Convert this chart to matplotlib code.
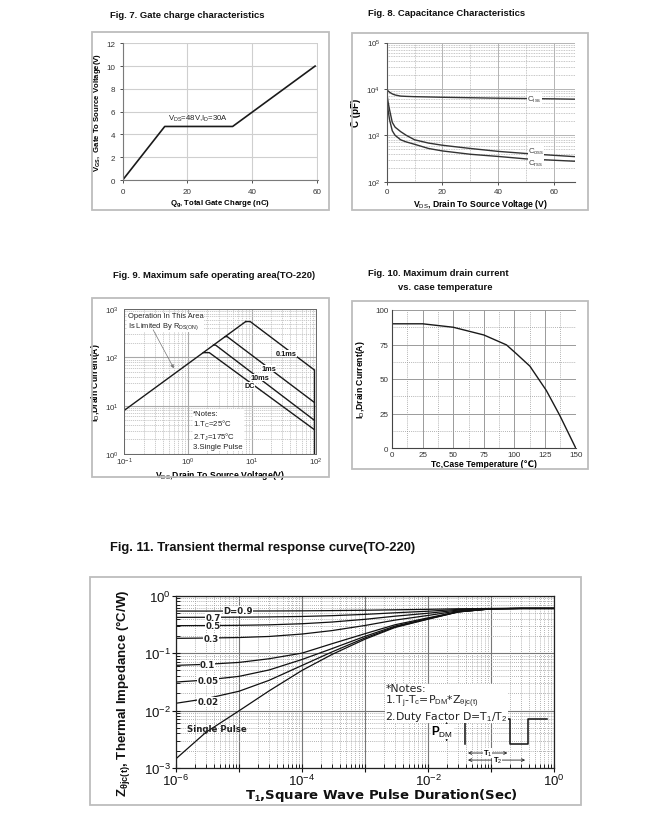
import numpy as np
import matplotlib
matplotlib.use('Agg')
import matplotlib.pyplot as plt
from matplotlib.ticker import MultipleLocator, LogLocator, NullFormatter, FuncFormatter
from matplotlib.patches import Rectangle

plt.rcParams['font.family'] = ['Liberation Sans', 'DejaVu Sans']
plt.rcParams['mathtext.fontset'] = 'custom'
plt.rcParams['mathtext.rm'] = 'Liberation Sans'
plt.rcParams['mathtext.bf'] = 'Liberation Sans:bold'
plt.rcParams['mathtext.it'] = 'Liberation Sans:italic'

# ---------------- data ----------------
# Fig 7 gate charge
qg_nc = [0, 13, 34, 59.5]
vgs_v = [0, 4.7, 4.7, 10]

# Fig 8 capacitance
vds_cap = [0, 0.5, 1, 2, 3, 5, 7, 10, 15, 20, 30, 40, 50, 60, 68]
ciss_pf = [10000, 9000, 8500, 7800, 7400, 7000, 6900, 6800, 6700, 6600, 6450, 6300, 6200, 6100, 6000]
coss_pf = [8500, 5200, 3600, 1900, 1500, 1200, 1000, 800, 680, 610, 520, 450, 405, 370, 345]
crss_pf = [7000, 3500, 2200, 1250, 1000, 800, 720, 640, 520, 460, 390, 350, 310, 290, 275]

# Fig 9 safe operating area
rds_v = [0.1, 8.0]
rds_i = [8, 550]
soa_01ms_v = [8.0, 9.4, 95]
soa_01ms_i = [550, 550, 55]
soa_1ms_v = [3.8, 4.1, 95]
soa_1ms_i = [268, 268, 11.7]
soa_10ms_v = [2.5, 2.7, 95]
soa_10ms_i = [179, 179, 5.0]
soa_dc_v = [1.73, 2.15, 95]
soa_dc_i = [125, 125, 3.2]
soa_vmax_v = [95, 95]
soa_vmax_i = [55, 1]

# Fig 10 drain current vs case temperature
tc_c = [0, 25, 50, 75, 93.5, 101.7, 112.6, 126, 137, 150]
id_a = [90, 90, 87.5, 81.9, 74.7, 68.2, 59.3, 41.7, 23.6, 0]

# Fig 11 transient thermal impedance
t_pulse = [1e-6, 3e-6, 1e-5, 3e-5, 1e-4, 3e-4, 1e-3, 3e-3, 1e-2, 3e-2, 1e-1, 3e-1, 1]
z_d09 = [0.540, 0.540, 0.541, 0.542, 0.545, 0.550, 0.558, 0.568, 0.579, 0.592, 0.599, 0.6, 0.6]
z_d07 = [0.420, 0.421, 0.423, 0.427, 0.435, 0.449, 0.473, 0.504, 0.537, 0.576, 0.597, 0.6, 0.6]
z_d05 = [0.301, 0.302, 0.305, 0.311, 0.325, 0.348, 0.388, 0.44, 0.495, 0.56, 0.595, 0.6, 0.6]
z_d03 = [0.181, 0.183, 0.187, 0.195, 0.215, 0.247, 0.303, 0.376, 0.453, 0.544, 0.593, 0.6, 0.6]
z_d01 = [0.0613, 0.0638, 0.0689, 0.0798, 0.10, 0.146, 0.218, 0.312, 0.411, 0.528, 0.591, 0.6, 0.6]
z_d005 = [0.0314, 0.034, 0.0394, 0.0509, 0.0775, 0.120, 0.196, 0.296, 0.400, 0.524, 0.590, 0.6, 0.6]
z_d002 = [0.0134, 0.0161, 0.0217, 0.0336, 0.061, 0.105, 0.184, 0.286, 0.394, 0.522, 0.590, 0.6, 0.6]
z_single = [0.00145, 0.0042, 0.0099, 0.022, 0.05, 0.095, 0.175, 0.28, 0.39, 0.52, 0.59, 0.6, 0.6]
duty_labels = ['D=0.9', '0.7', '0.5', '0.3', '0.1', '0.05', '0.02']

# ---------------- layout helpers ----------------
W, H = 669, 820
fig = plt.figure(figsize=(W / 100, H / 100), dpi=100)

def ax_px(l, t, r, b):
    return fig.add_axes([l / W, 1 - b / H, (r - l) / W, (b - t) / H])

def box_px(l, t, r, b):
    fig.add_artist(Rectangle((l / W, 1 - b / H), (r - l) / W, (b - t) / H,
                             transform=fig.transFigure, fill=False,
                             ec='#bdbdbd', lw=1.3))

def text_px(x, y, s, **kw):
    return fig.text(x / W, 1 - y / H, s, **kw)

GRID = '#b4b4b4'
LINE = '#1a1a1a'
TICKC = '#333333'
white_box = dict(fc='white', ec='none', pad=0.4)

# frames
box_px(92, 33, 329, 211)
box_px(352, 34, 588, 211)
box_px(92, 299, 329, 478)
box_px(352, 302, 588, 470)
box_px(90, 578, 581, 806)

# titles
tkw = dict(fontsize=6.8, fontweight='bold', color='#111111', va='center', ha='left')
text_px(110, 15, 'Fig. 7. Gate charge characteristics', **tkw)
text_px(368, 14, 'Fig. 8. Capacitance Characteristics', **tkw)
text_px(113, 275, 'Fig. 9. Maximum safe operating area(TO-220)', **tkw)
text_px(368, 274, 'Fig. 10. Maximum drain current', **tkw)
text_px(398, 288, 'vs. case temperature', **tkw)
text_px(110, 548, 'Fig. 11. Transient thermal response curve(TO-220)',
        fontsize=9.3, fontweight='bold', color='#111111', va='center', ha='left')

# ---------------- Fig 7 ----------------
ax7 = ax_px(122.7, 44.3, 318, 181)
ax7.plot(qg_nc, vgs_v, color=LINE, lw=1.2)
ax7.set_xlim(0, 60.4)
ax7.set_ylim(0, 12)
ax7.xaxis.set_major_locator(MultipleLocator(20))
ax7.yaxis.set_major_locator(MultipleLocator(2))
ax7.grid(True, color='#cfcfcf', lw=0.8)
for s in ['top', 'right']:
    ax7.spines[s].set_visible(False)
for s in ['left', 'bottom']:
    ax7.spines[s].set_color('#7a7a7a')
    ax7.spines[s].set_linewidth(0.8)
ax7.tick_params(labelsize=5.8, colors=TICKC, length=2.5, width=0.6, pad=3)
ax7.text(13.9, 5.0, 'V$_{\\rm DS}$=48V,I$_{\\rm D}$=30A', fontsize=5.6, color='#222222', va='bottom')
ax7.set_xlabel('Q$_{\\mathbf{g}}$, Total Gate Charge (nC)', fontsize=5.6, fontweight='bold', labelpad=1.5)
ax7.set_ylabel('V$_{\\mathbf{GS}}$,  Gate To Source Voltage(V)', fontsize=5.6, fontweight='bold', labelpad=2.5)

# ---------------- Fig 8 ----------------
ax8 = ax_px(386.7, 43.5, 575, 182.7)
ax8.set_yscale('log')
ax8.set_xlim(0, 67.5)
ax8.set_ylim(1e2, 1e5)
ax8.xaxis.set_major_locator(MultipleLocator(20))
ax8.xaxis.set_minor_locator(MultipleLocator(10))
ax8.yaxis.set_major_locator(LogLocator(base=10, numticks=10))
ax8.yaxis.set_minor_locator(LogLocator(base=10, subs=np.arange(2, 10), numticks=10))
ax8.yaxis.set_minor_formatter(NullFormatter())
ax8.grid(True, which='major', color=GRID, lw=0.7)
ax8.grid(True, which='minor', color=GRID, lw=0.6, ls=(0, (1, 1)))
ax8.tick_params(which='minor', length=0)
ax8.plot(vds_cap, ciss_pf, color='#333333', lw=1.0)
ax8.plot(vds_cap, coss_pf, color='#333333', lw=1.0)
ax8.plot(vds_cap, crss_pf, color='#333333', lw=1.0)
for s in ['top', 'right']:
    ax8.spines[s].set_visible(False)
for s in ['left', 'bottom']:
    ax8.spines[s].set_color('#555555')
    ax8.spines[s].set_linewidth(0.8)
ax8.tick_params(which='major', labelsize=5.8, colors=TICKC, length=2, width=0.6, pad=2.5)
ax8.text(53, 6150, 'C$_{\\rm iss}$', fontsize=5.8, color='#444444', ha='center', va='center', bbox=white_box)
ax8.text(53.5, 450, 'C$_{\\rm oss}$', fontsize=5.8, color='#444444', ha='center', va='center',
         bbox=dict(fc='white', ec='none', pad=0.2))
ax8.text(53.5, 258, 'C$_{\\rm rss}$', fontsize=5.8, color='#444444', ha='center', va='center',
         bbox=dict(fc='white', ec='none', pad=0.1))
ax8.set_xlabel('V$_{\\rm DS}$, Drain To Source Voltage (V)', fontsize=6.2, fontweight='bold', labelpad=1.5)
ax8.set_ylabel('C (pF)', fontsize=7, fontweight='bold', labelpad=4)

# ---------------- Fig 9 ----------------
ax9 = ax_px(124.3, 310, 315.7, 455)
ax9.set_xscale('log')
ax9.set_yscale('log')
ax9.set_xlim(0.1, 100)
ax9.set_ylim(1, 1000)
for a in (ax9.xaxis, ax9.yaxis):
    a.set_major_locator(LogLocator(base=10, numticks=10))
    a.set_minor_locator(LogLocator(base=10, subs=np.arange(2, 10), numticks=10))
    a.set_minor_formatter(NullFormatter())
ax9.grid(True, which='major', color='#a8a8a8', lw=0.8)
ax9.grid(True, which='minor', color='#c4c4c4', lw=0.6, ls=(0, (1.5, 1)))
ax9.tick_params(which='minor', length=0)
ax9.tick_params(axis='x', which='major', labelsize=5.8, colors=TICKC, length=0, pad=1.5)
ax9.tick_params(axis='y', which='major', labelsize=5.8, colors=TICKC, length=0, pad=4)
ax9.plot(rds_v, rds_i, color=LINE, lw=1.0)
ax9.plot(soa_01ms_v, soa_01ms_i, color=LINE, lw=1.0)
ax9.plot(soa_1ms_v, soa_1ms_i, color=LINE, lw=1.0)
ax9.plot(soa_10ms_v, soa_10ms_i, color=LINE, lw=1.0)
ax9.plot(soa_dc_v, soa_dc_i, color=LINE, lw=1.0)
ax9.plot(soa_vmax_v, soa_vmax_i, color=LINE, lw=1.0)
for s in ax9.spines.values():
    s.set_color('#666666')
    s.set_linewidth(0.7)
lkw = dict(fontsize=5.3, fontweight='bold', color='#111111', ha='center', va='center',
           bbox=dict(fc='white', ec='none', pad=0.2))
ax9.text(35, 120, '0.1ms', **lkw)
ax9.text(18.3, 59, '1ms', **lkw)
ax9.text(13.5, 38.6, '10ms', **lkw)
ax9.text(9.2, 26, 'DC', **lkw)
ax9.text(0.113, 870, 'Operation In This Area\nIs Limited By R$_{\\rm DS(ON)}$', fontsize=5.4,
         color='#222222', va='top', ha='left', linespacing=1.25,
         bbox=dict(fc='white', ec='none', pad=0.3))
ax9.annotate('', xy=(0.625, 52.8), xytext=(0.27, 417),
             arrowprops=dict(arrowstyle='-|>', color='#777777', lw=0.5, mutation_scale=5))
ax9.text(1.21, 8.3, '*Notes:\n1.T$_{\\rm C}$=25\u00b0C\n2.T$_{\\rm J}$=175\u00b0C\n3.Single Pulse', fontsize=5.6,
         color='#222222', va='top', ha='left', linespacing=1.2,
         bbox=dict(fc='white', ec='none', pad=0.4))
ax9.set_xlabel('V$_{\\rm DS}$,Drain To Source Voltage(V)', fontsize=6.2, fontweight='bold')
ax9.xaxis.set_label_coords(0.5, -0.095)
ax9.set_ylabel('I$_{\\rm D}$,Drain Current(A)', fontsize=6.2, fontweight='bold', labelpad=2)

# ---------------- Fig 10 ----------------
ax10 = ax_px(392, 311, 575.7, 449)
ax10.set_xlim(0, 150)
ax10.set_ylim(0, 100)
ax10.xaxis.set_major_locator(MultipleLocator(25))
ax10.xaxis.set_minor_locator(MultipleLocator(12.5))
ax10.yaxis.set_major_locator(MultipleLocator(25))
ax10.yaxis.set_minor_locator(MultipleLocator(12.5))
ax10.grid(True, which='major', color='#9a9a9a', lw=0.7)
ax10.grid(True, which='minor', color='#9a9a9a', lw=0.6, ls=(0, (1, 1.5)))
ax10.tick_params(which='minor', length=0)
ax10.tick_params(which='major', labelsize=5.8, colors=TICKC, length=0, pad=2.5)
ax10.plot(tc_c, id_a, color=LINE, lw=1.0)
for s in ['top', 'right']:
    ax10.spines[s].set_visible(False)
for s in ['left', 'bottom']:
    ax10.spines[s].set_color('#444444')
    ax10.spines[s].set_linewidth(0.8)
ax10.set_xlabel('Tc,Case Temperature (\u2103)', fontsize=6.2, fontweight='bold', labelpad=0.5)
ax10.set_ylabel('I$_{\\rm D}$,Drain Current(A)', fontsize=6.2, fontweight='bold', labelpad=6)

# ---------------- Fig 11 ----------------
ax11 = ax_px(176, 596.7, 554, 769)
ax11.set_xscale('log')
ax11.set_yscale('log')
ax11.set_xlim(1e-6, 1)
ax11.set_ylim(1e-3, 1)
for a in (ax11.xaxis, ax11.yaxis):
    a.set_major_locator(LogLocator(base=10, numticks=12))
    a.set_minor_locator(LogLocator(base=10, subs=np.arange(2, 10), numticks=12))
    a.set_minor_formatter(NullFormatter())

def even_dec(v, pos):
    e = int(round(np.log10(v)))
    return '$\\mathdefault{10^{%d}}$' % e if e % 2 == 0 else ''

ax11.xaxis.set_major_formatter(FuncFormatter(even_dec))
ax11.grid(True, which='major', color='#777777', lw=0.8)
ax11.grid(True, which='minor', color='#9a9a9a', lw=0.6, ls=(0, (1, 1.5)))
ax11.tick_params(which='major', direction='inout', length=6, width=0.8, labelsize=9.5, colors='#111111', pad=0.5)
ax11.tick_params(which='minor', direction='in', length=3, width=0.6)
for s in ax11.spines.values():
    s.set_color('#222222')
    s.set_linewidth(0.9)
curves = [z_d09, z_d07, z_d05, z_d03, z_d01, z_d005, z_d002, z_single]
for z in curves:
    ax11.plot(t_pulse, z, color='#111111', lw=0.9)
dkw = dict(fontsize=6.2, fontweight='bold', family='DejaVu Sans', color='#222222',
           ha='left', va='center', bbox=dict(fc='white', ec='none', pad=0.15))
ax11.text(5.6e-6, 0.545, duty_labels[0], **dkw)
ax11.text(2.9e-6, 0.425, duty_labels[1], **dkw)
ax11.text(2.9e-6, 0.301, duty_labels[2], **dkw)
ax11.text(2.7e-6, 0.182, duty_labels[3], **dkw)
ax11.text(2.4e-6, 0.0625, duty_labels[4], **dkw)
ax11.text(2.2e-6, 0.033, duty_labels[5], **dkw)
ax11.text(2.2e-6, 0.0145, duty_labels[6], **dkw)
ax11.text(1.47e-6, 0.0049, 'Single Pulse', fontsize=6.2, fontweight='bold', family='DejaVu Sans',
          color='#222222', ha='left', va='center')
ax11.text(0.554, 0.495, '*Notes:\n1.T$_{\\rm j}$-T$_{\\rm c}$=P$_{\\rm DM}$*Z$_{\\rm \\theta jc(t)}$\n2.Duty Factor D=T$_1$/T$_2$',
          transform=ax11.transAxes, fontsize=7.8, family='DejaVu Sans', color='#222222',
          ha='left', va='top', linespacing=1.0, bbox=dict(fc='white', ec='none', pad=0.2))
# pulse waveform sketch
px = [0.765, 0.765, 0.884, 0.884, 0.931, 0.931, 0.981]
py = [0.139, 0.284, 0.284, 0.139, 0.139, 0.284, 0.284]
ax11.plot(px, py, transform=ax11.transAxes, color='#111111', lw=1.1, clip_on=False)
ax11.annotate('', xy=(0.716, 0.284), xytext=(0.716, 0.24), xycoords='axes fraction',
              arrowprops=dict(arrowstyle='->', lw=0.6, color='#222222', mutation_scale=5))
ax11.annotate('', xy=(0.716, 0.139), xytext=(0.716, 0.18), xycoords='axes fraction',
              arrowprops=dict(arrowstyle='->', lw=0.6, color='#222222', mutation_scale=5))
ax11.text(0.705, 0.212, 'P$_{\\rm DM}$', transform=ax11.transAxes, fontsize=8.5, fontweight='bold',
          ha='center', va='center', bbox=dict(fc='white', ec='none', pad=0.1))
ax11.annotate('', xy=(0.765, 0.087), xytext=(0.884, 0.087), xycoords='axes fraction',
              arrowprops=dict(arrowstyle='<->', lw=0.6, color='#222222', mutation_scale=5))
ax11.annotate('', xy=(0.765, 0.046), xytext=(0.931, 0.046), xycoords='axes fraction',
              arrowprops=dict(arrowstyle='<->', lw=0.6, color='#222222', mutation_scale=5))
ax11.text(0.824, 0.087, 'T$_1$', transform=ax11.transAxes, fontsize=5.5, fontweight='bold',
          ha='center', va='center', bbox=dict(fc='white', ec='none', pad=0.1))
ax11.text(0.85, 0.046, 'T$_2$', transform=ax11.transAxes, fontsize=5.5, fontweight='bold',
          ha='center', va='center', bbox=dict(fc='white', ec='none', pad=0.1))
text_px(381, 796, 'T$_{\\mathbf{1}}$,Square Wave Pulse Duration(Sec)', fontsize=9.5, fontweight='bold',
        family='DejaVu Sans', ha='center', va='center', color='#111111')
text_px(124, 693, 'Z$_{\\mathbf{\\theta jc(t)}}$, Thermal Impedance (\u00b0C/W)', fontsize=9.5, fontweight='bold',
        rotation=90, ha='center', va='center', color='#111111')

fig.savefig('out.png', dpi=100)
